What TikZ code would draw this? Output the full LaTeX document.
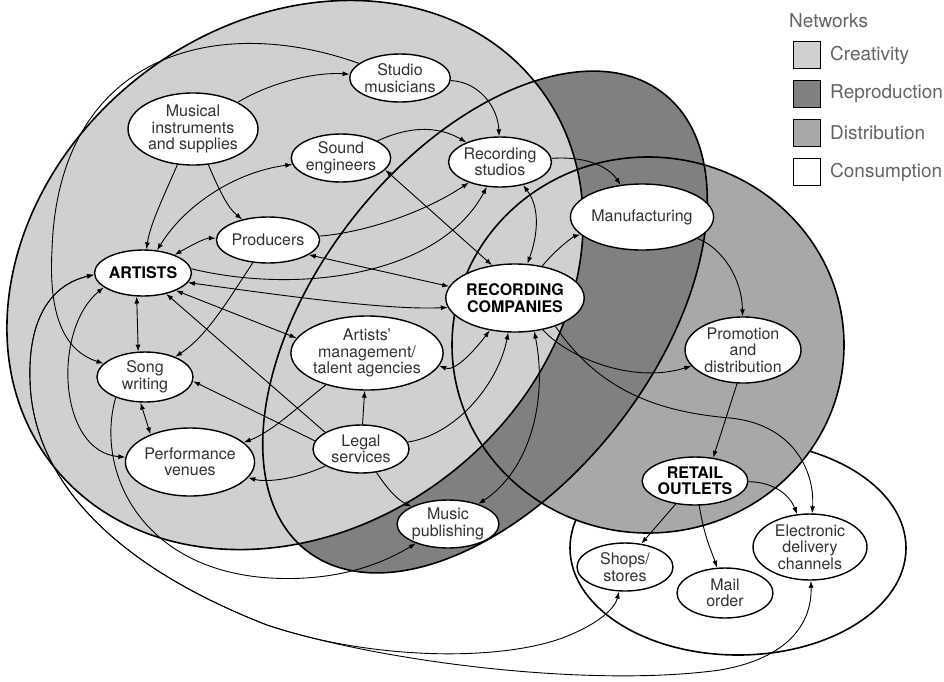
\documentclass[tikz,border=0pt]{standalone}
\usepackage{fontspec}
\setmainfont{TeX Gyre Heros}
\usetikzlibrary{shapes.geometric,arrows.meta}
\definecolor{creat}{RGB}{208,208,208}
\definecolor{repro}{RGB}{128,128,128}
\definecolor{distr}{RGB}{168,168,168}
\definecolor{txtgray}{RGB}{50,50,50}
\definecolor{keygray}{RGB}{100,100,100}
\begin{document}
\begin{tikzpicture}[x=1pt, y=-1pt,
  hub/.style={ellipse, draw=black, line width=1.4pt, fill=white, inner sep=0pt,
    align=center, text=txtgray, font=\fontsize{16}{16.5}\selectfont},
  keyhub/.style={hub, text=black, font=\fontsize{16}{16.5}\selectfont\bfseries},
  link/.style={line width=0.9pt, -{Latex[length=7pt,width=5pt]}},
  both/.style={line width=0.9pt, {Latex[length=7pt,width=5pt]}-{Latex[length=7pt,width=5pt]}},
  rim/.style={line width=1.6pt},
  swatch/.style={draw, line width=1.8pt, minimum size=27pt, inner sep=0pt},
  keytext/.style={anchor=west, inner sep=0pt, text=keygray, font=\fontsize{19}{20}\selectfont}
]
\useasboundingbox (0,0) rectangle (944,681);
\fill[white] (0,0) rectangle (944,681);

% consumption network (lowest layer)
\draw[rim, fill=white] (738,548) ellipse [x radius=168, y radius=107];
% network fills
\fill[distr] (648,345) ellipse [x radius=196, y radius=188];
\fill[repro, rotate around={52:(485,322)}] (485,322) ellipse [x radius=290, y radius=168];
\fill[creat, rotate around={38:(295,275)}] (295,275) ellipse [x radius=308, y radius=252];
% network outlines
\draw[rim] (648,345) ellipse [x radius=196, y radius=188];
\draw[rim, rotate around={52:(485,322)}] (485,322) ellipse [x radius=290, y radius=168];
\draw[rim, rotate around={38:(295,275)}] (295,275) ellipse [x radius=308, y radius=252];

% actors
\node[hub, minimum width=94pt, minimum height=48pt] (SM) at (400,78) {Studio\\musicians};
\node[hub, minimum width=130pt, minimum height=72pt] (MI) at (193,129) {Musical\\instruments\\and supplies};
\node[hub, minimum width=96pt, minimum height=48pt] (SE) at (341,158) {Sound\\engineers};
\node[hub, minimum width=96pt, minimum height=50pt] (RS) at (500,162) {Recording\\studios};
\node[hub, minimum width=94pt, minimum height=46pt] (PR) at (268,240) {Producers};
\node[keyhub, minimum width=90pt, minimum height=46pt] (AR) at (143,273) {ARTISTS};
\node[keyhub, minimum width=116pt, minimum height=68pt] (RC) at (515,298) {RECORDING\\COMPANIES};
\node[hub, minimum width=110pt, minimum height=66pt] (MA) at (642,217) {Manufacturing};
\node[hub, minimum width=132pt, minimum height=74pt] (AM) at (367,353) {Artists’\\management/\\talent agencies};
\node[hub, minimum width=96pt, minimum height=50pt] (SW) at (145,377) {Song\\writing};
\node[hub, minimum width=116pt, minimum height=68pt] (PV) at (190,462) {Performance\\venues};
\node[hub, minimum width=96pt, minimum height=48pt] (LS) at (361,449) {Legal\\services};
\node[hub, minimum width=94pt, minimum height=48pt] (MP) at (448,524) {Music\\publishing};
\node[hub, minimum width=116pt, minimum height=66pt] (PD) at (743,350) {Promotion\\and\\distribution};
\node[keyhub, minimum width=96pt, minimum height=48pt] (RO) at (695,481) {RETAIL\\OUTLETS};
\node[hub, minimum width=96pt, minimum height=48pt] (SS) at (625,567) {Shops/\\stores};
\node[hub, minimum width=96pt, minimum height=50pt] (MO) at (725,593) {Mail\\order};
\node[hub, minimum width=114pt, minimum height=66pt] (ED) at (810,547) {Electronic\\delivery\\channels};

% creativity links
\draw[link] (MI) .. controls (275,80) and (320,72) .. (SM);
\draw[link] (SM) .. controls (215,12) and (58,55) .. (52,250) .. controls (48,322) and (68,352) .. (SW);
\draw[link] (SM) .. controls (480,82) and (498,108) .. (RS);
\draw[link] (MI) .. controls (162,200) and (150,225) .. (AR);
\draw[link] (MI) .. controls (220,192) and (228,208) .. (PR);
\draw[link] (PR) .. controls (228,300) and (208,335) .. (SW);
\draw[both] (SE) .. controls (235,172) and (185,205) .. (AR);
\draw[both] (AR) .. controls (190,246) and (205,238) .. (PR);
\draw[link] (SE) .. controls (405,128) and (435,124) .. (RS);
\draw[both] (SE.-15) -- (RC.125);
\draw[link] (PR) .. controls (360,233) and (420,215) .. (RS);
\draw[link] (AR.5) .. controls (300,295) and (440,275) .. (RS);
\draw[both] (PR.-20) -- (RC.170);
\draw[both] (AR.-12) .. controls (300,298) and (390,310) .. (RC.188);
\draw[both] (AR.-28) -- (AM.168);
\draw[link] (LS.155) -- (AR.-42);
\draw[link] (LS.170) -- (SW.-5);
\draw[link] (LS) .. controls (300,478) and (268,483) .. (PV);
\draw[link] (AM) .. controls (300,405) and (272,432) .. (PV);
\draw[link] (LS) -- (AM);
\draw[link] (LS) .. controls (455,435) and (498,385) .. (RC);
\draw[link] (LS) .. controls (388,490) and (398,500) .. (MP);
\draw[both] (RC.-60) .. controls (548,400) and (530,470) .. (MP);
\draw[both] (AM.-10) .. controls (455,372) and (475,350) .. (RC.-128);
\draw[link] (SW.-145) .. controls (95,470) and (140,570) .. (270,578) .. controls (340,582) and (385,562) .. (MP);
\draw[both] (AR.-160) .. controls (52,330) and (58,452) .. (PV);
\draw[both] (AR.-105) -- (SW.105);
\draw[both] (SW.-100) -- (PV.145);

% artists to consumers
\draw[both] (AR.182) .. controls (50,285) and (28,320) .. (30,380) .. controls (32,470) and (100,560) .. (267,625) .. controls (380,662) and (590,688) .. (720,670) .. controls (790,658) and (812,622) .. (ED);
\draw[both] (AR.182) .. controls (50,285) and (28,320) .. (30,380) .. controls (32,470) and (100,560) .. (267,625) .. controls (370,660) and (500,662) .. (565,637) .. controls (600,623) and (615,608) .. (SS);

% reproduction and distribution links
\draw[link] (RC) .. controls (560,245) and (575,236) .. (MA);
\draw[link] (RS) .. controls (585,156) and (608,166) .. (MA);
\draw[both] (RS.-45) .. controls (542,210) and (536,240) .. (RC);
\draw[link] (MA) .. controls (722,248) and (742,278) .. (PD);
\draw[link] (RC) .. controls (565,355) and (630,385) .. (PD);
\draw[link] (RC.-35) .. controls (600,392) and (660,412) .. (730,418) .. controls (792,424) and (815,470) .. (ED);
\draw[link] (PD.-100) -- (RO.52);
\draw[link] (RO) .. controls (775,482) and (790,496) .. (ED);
\draw[link] (RO.-130) -- (SS.55);
\draw[link] (RO) .. controls (705,540) and (712,552) .. (MO);

% legend
\node[keytext] (nwk) at (789,21) {Networks};
\node[swatch, fill=creat] (sw1) at (807,55) {};
\node[swatch, fill=repro] (sw2) at (807,94) {};
\node[swatch, fill=distr] (sw3) at (807,133) {};
\node[swatch, fill=white] (sw4) at (807,172) {};
\node[keytext] (kl1) at (830,55) {Creativity};
\node[keytext] (kl2) at (830,94) {Reproduction};
\node[keytext] (kl3) at (830,133) {Distribution};
\node[keytext] (kl4) at (830,172) {Consumption};
\end{tikzpicture}
\end{document}
